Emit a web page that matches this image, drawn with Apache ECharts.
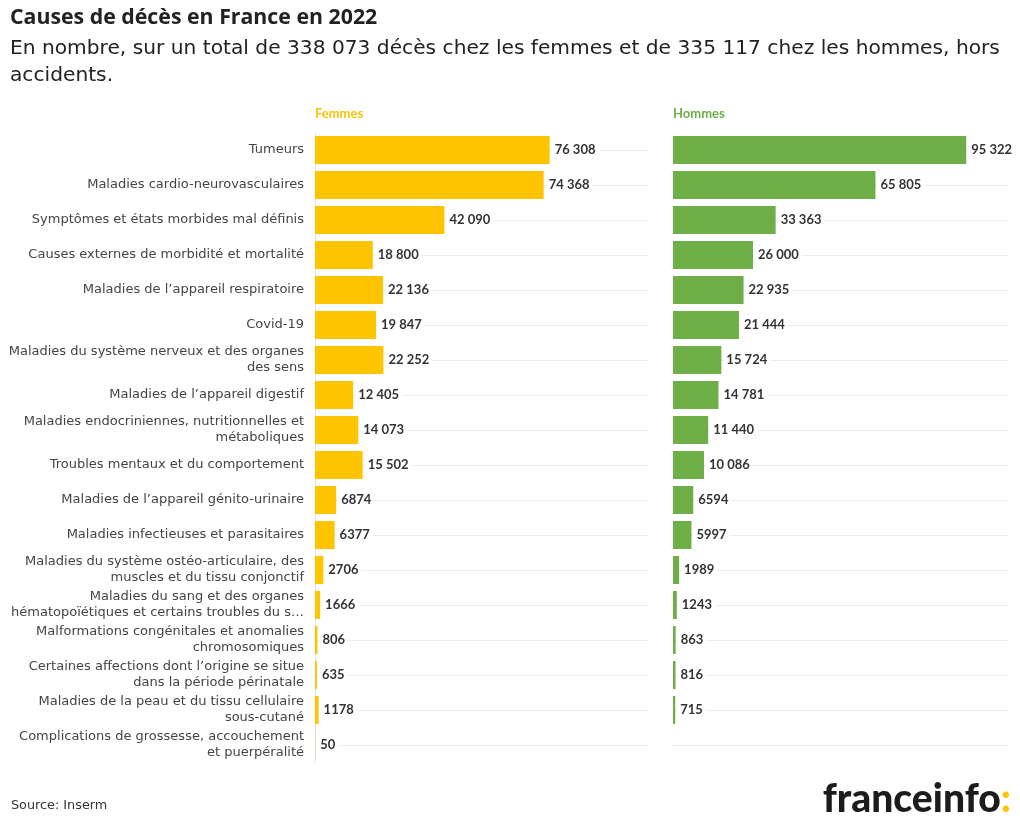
<!DOCTYPE html>
<html><head><meta charset="utf-8">
<script src="https://cdn.jsdelivr.net/npm/echarts@6/dist/echarts.min.js"></script>
<style>html,body{margin:0;padding:0;background:#fff}#c{width:1020px;height:835px}</style>
</head><body><div id="c"></div>
<script>
const categories = [
  "Tumeurs",
  "Maladies cardio-neurovasculaires",
  "Symptômes et états morbides mal définis",
  "Causes externes de morbidité et mortalité",
  "Maladies de l’appareil respiratoire",
  "Covid-19",
  "Maladies du système nerveux et des organes\ndes sens",
  "Maladies de l’appareil digestif",
  "Maladies endocriniennes, nutritionnelles et\nmétaboliques",
  "Troubles mentaux et du comportement",
  "Maladies de l’appareil génito-urinaire",
  "Maladies infectieuses et parasitaires",
  "Maladies du système ostéo-articulaire, des\nmuscles et du tissu conjonctif",
  "Maladies du sang et des organes\nhématopoïétiques et certains troubles du s…",
  "Malformations congénitales et anomalies\nchromosomiques",
  "Certaines affections dont l’origine se situe\ndans la période périnatale",
  "Maladies de la peau et du tissu cellulaire\nsous-cutané",
  "Complications de grossesse, accouchement\net puerpéralité"
];
const femmes = [76308, 74368, 42090, 18800, 22136, 19847, 22252, 12405, 14073, 15502, 6874, 6377, 2706, 1666, 806, 635, 1178, 50];
const hommes = [95322, 65805, 33363, 26000, 22935, 21444, 15724, 14781, 11440, 10086, 6594, 5997, 1989, 1243, 863, 816, 715, null];

const FONT = 'DejaVu Sans';
const TFONT = 'Open Sans';
const VFONT = 'Lato';
const YEL = '#ffc400';
const GRN = '#6dae47';

function fmt(v) {
  if (v == null) return '';
  if (v < 10000) return String(v);
  return String(v).replace(/\B(?=(\d{3})+(?!\d))/g, ' ');
}

const chart = echarts.init(document.getElementById('c'), null, {renderer: 'canvas'});

function grid(left, width) { return {left: left, top: 132.5, width: width, height: 630, containLabel: false}; }

function barSeries(idx, data, color) {
  return {
    type: 'bar', xAxisIndex: idx, yAxisIndex: idx, data: data, barWidth: 28, z: 3, zlevel: 1,
    itemStyle: {color: color},
    label: {
      show: true, position: 'right', distance: 2,
      formatter: p => fmt(p.value),
      fontFamily: VFONT, fontWeight: 'bold', fontSize: 13, color: '#333',
      backgroundColor: '#fff', padding: [1, 3]
    }
  };
}
function gridLines(idx) {
  return {
    type: 'line', xAxisIndex: idx, yAxisIndex: idx, data: [], z: 1, zlevel: 0, silent: true,
    markLine: {
      silent: true, symbol: 'none', animation: false,
      label: {show: false},
      lineStyle: {color: '#ececec', width: 1, type: 'solid'},
      data: categories.map(c => ({yAxis: c}))
    }
  };
}

chart.setOption({
  animation: false,
  textStyle: {fontFamily: FONT},
  title: [
    {text: 'Causes de décès en France en 2022', left: 10, top: 7, padding: 0,
     textStyle: {fontFamily: TFONT, fontWeight: 'bold', fontSize: 21.3, color: '#222'}},
    {text: 'En nombre, sur un total de 338 073 décès chez les femmes et de 335 117 chez les hommes, hors\naccidents.',
     left: 10, top: 35, padding: 0, textStyle: {fontFamily: FONT, fontWeight: 'normal', fontSize: 20.2, lineHeight: 27, color: '#222'}},
    {text: 'Femmes', left: 315, top: 107, padding: 0, textStyle: {fontFamily: VFONT, fontWeight: 'bold', fontSize: 13, color: '#f8c20a'}},
    {text: 'Hommes', left: 673, top: 107, padding: 0, textStyle: {fontFamily: VFONT, fontWeight: 'bold', fontSize: 13, color: '#6dae47'}},
    {text: 'Source: Inserm', left: 11, top: 799, padding: 0, textStyle: {fontFamily: FONT, fontWeight: 'normal', fontSize: 12.8, color: '#333'}}
  ],
  grid: [grid(315, 333), grid(673, 335)],
  xAxis: [
    {gridIndex: 0, type: 'value', min: 0, max: 108300, show: false},
    {gridIndex: 1, type: 'value', min: 0, max: 108900, show: false}
  ],
  yAxis: [
    {gridIndex: 0, type: 'category', inverse: true, data: categories, zlevel: 1,
     axisLine: {show: true, lineStyle: {color: '#e3e3e3'}}, axisTick: {show: false},
     splitLine: {show: false},
     axisLabel: {margin: 11, fontFamily: FONT, fontSize: 13, lineHeight: 16, color: '#444', align: 'right'}},
    {gridIndex: 1, type: 'category', inverse: true, data: categories,
     axisLine: {show: false}, axisTick: {show: false}, axisLabel: {show: false}, splitLine: {show: false}}
  ],
  series: [gridLines(0), gridLines(1), barSeries(0, femmes, YEL), barSeries(1, hommes, GRN)],
  graphic: [{
    type: 'text', right: 9, top: 780,
    style: {
      text: '{a|franceinfo}{b|:}',
      rich: {
        a: {fontFamily: VFONT, fontWeight: 900, fontSize: 39, fill: '#1c1c1c'},
        b: {fontFamily: VFONT, fontWeight: 900, fontSize: 39, fill: '#ffc400'}
      }
    }
  }]
});
</script></body></html>
